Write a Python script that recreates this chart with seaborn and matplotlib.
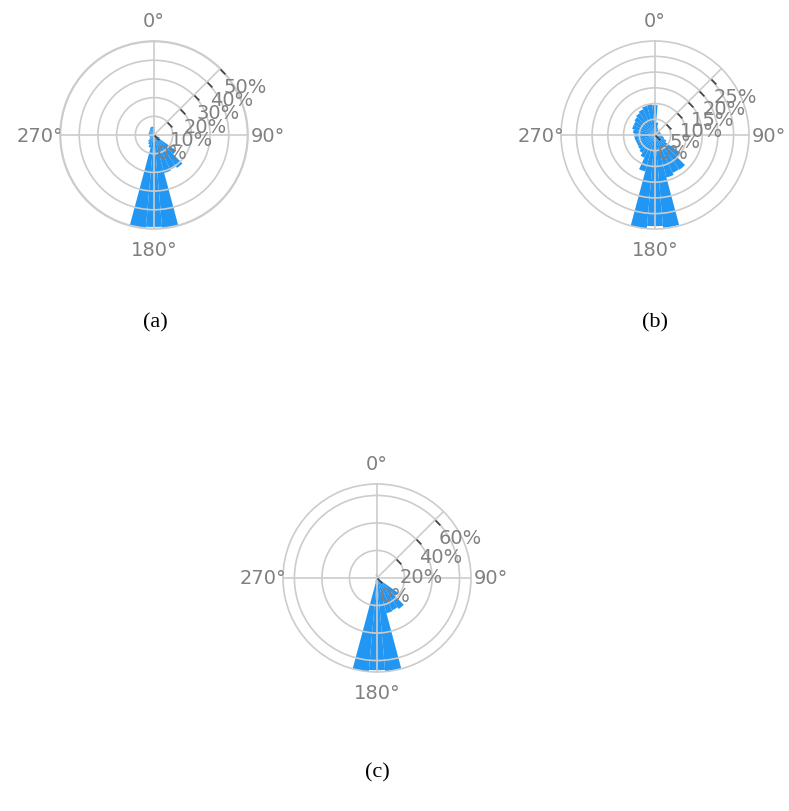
import numpy as np
import pandas as pd
import matplotlib
matplotlib.use("Agg")
import matplotlib.pyplot as plt
import matplotlib.transforms as mtransforms
from matplotlib.path import Path
import seaborn as sns

# Direction bins (degrees, clockwise from north)
directions = [0, 10, 20, 30, 40, 50, 60, 70, 80, 90, 100, 110,
              120, 130, 140, 150, 160, 170, 180, 190, 200, 210, 220, 230,
              240, 250, 260, 270, 280, 290, 300, 310, 320, 330, 340, 350]

# Share per direction bin (%)
share_a = [4.5, 2.5, 1.5, 1.2, 1.0, 0.8, 0.8, 0.8, 1.0, 1.2, 1.5, 2.0,
           3.5, 14.5, 21.5, 20.5, 21.0, 50.0, 49.2, 50.3, 7.0, 5.5, 4.5, 3.0,
           2.5, 2.5, 2.5, 3.0, 3.0, 3.0, 3.0, 3.0, 3.5, 4.0, 4.5, 4.5]
share_b = [9.5, 4.0, 2.5, 2.0, 1.8, 1.8, 1.8, 1.8, 2.0, 2.2, 2.5, 3.0,
           4.0, 10.0, 13.5, 13.3, 14.0, 29.6, 29.0, 29.9, 12.0, 8.0, 7.0, 6.5,
           6.3, 6.3, 6.5, 6.6, 7.0, 7.5, 7.5, 8.0, 8.5, 9.0, 9.6, 9.8]
share_c = [3.0, 1.5, 1.0, 0.8, 0.8, 0.8, 0.8, 0.8, 0.8, 0.8, 1.0, 1.2,
           2.0, 18.5, 27.5, 26.0, 26.5, 68.0, 67.0, 68.3, 3.0, 1.5, 1.0, 1.0,
           1.0, 1.0, 1.0, 1.0, 1.0, 1.0, 1.0, 1.0, 1.0, 1.5, 2.5, 3.0]

ticks_a = [0, 10, 20, 30, 40, 50]
ticks_b = [0, 5, 10, 15, 20, 25]
ticks_c = [0, 20, 40, 60]

angle_ticks = [0, 90, 180, 270]
angle_labels = ["0°", "90°", "180°", "270°"]
captions = ["(a)", "(b)", "(c)"]

sns.set_style("white")
plt.rcParams["font.family"] = ["DejaVu Sans"]

BAR = "#2196F3"
GRID = "#cccccc"
TEXT = "#808080"
TICK = "#444444"

W, H = 789, 812
fig = plt.figure(figsize=(W / 100, H / 100), dpi=100)


def polar_box(cx, cy, r):
    return [(cx - r) / W, (H - cy - r) / H, 2 * r / W, 2 * r / H]


# short tick pointing away from the 45 degree radial axis
tick_marker = Path([(0, 0), (1, -1)], [Path.MOVETO, Path.LINETO])


def rose(ax, values, ticks):
    df = pd.DataFrame({"theta": np.deg2rad(directions), "share": values})
    sns.barplot(data=df, x="theta", y="share", native_scale=True, width=1.0,
                orient="x", color=BAR, saturation=1, errorbar=None, ax=ax,
                linewidth=0, zorder=1)
    rmax = max(values)
    ax.set_theta_zero_location("N")
    ax.set_theta_direction(-1)
    ax.set_ylim(0, rmax)
    ax.set_xlabel("")
    ax.set_ylabel("")
    ax.set_xticks(np.deg2rad(angle_ticks), angle_labels)
    ax.set_yticks(ticks[1:])
    ax.set_yticklabels([])
    ax.set_axisbelow(False)
    ax.grid(True, color=GRID, lw=1.2)
    ax.spines["polar"].set_color(GRID)
    ax.spines["polar"].set_linewidth(1.2)
    ax.tick_params(axis="x", colors=TEXT, labelsize=14, pad=4)
    ax.tick_params(axis="y", length=0)

    t45 = np.deg2rad(45)
    ax.plot([t45, t45], [0, rmax], color=GRID, lw=1.2, zorder=3)
    ax.plot([t45] * len(ticks), ticks, ls="none", marker=tick_marker, ms=7,
            mec=TICK, mew=1.2, zorder=4, clip_on=False)
    trans = mtransforms.offset_copy(ax.transData, fig=fig, x=3, y=-8, units="dots")
    for t in ticks:
        ax.text(t45, t, f"{t}%", transform=trans, ha="left", va="top",
                color=TEXT, fontsize=14, zorder=5, clip_on=False)


ax_a = fig.add_axes(polar_box(154, 136, 94), projection="polar")
rose(ax_a, share_a, ticks_a)
ax_b = fig.add_axes(polar_box(655, 136, 94), projection="polar")
rose(ax_b, share_b, ticks_b)
ax_c = fig.add_axes(polar_box(377, 579, 94), projection="polar")
rose(ax_c, share_c, ticks_c)

for (x, y), cap in zip([(155, 323), (655, 323), (377, 773)], captions):
    fig.text(x / W, 1 - y / H, cap, ha="center", va="center",
             family="Liberation Serif", fontsize=16, color="black")

fig.savefig("out.png", dpi=100)
